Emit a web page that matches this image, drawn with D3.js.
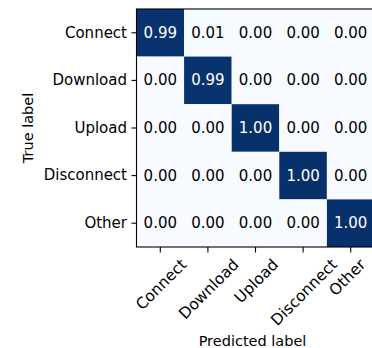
<!DOCTYPE html>
<html>
<head>
<meta charset="utf-8">
<script src="https://cdn.jsdelivr.net/npm/d3@7"></script>
<style>
  html, body { margin: 0; padding: 0; background: #fff; }
  svg { display: block; font-family: "DejaVu Sans", sans-serif; }
</style>
</head>
<body>
<svg id="chart" width="372" height="348"></svg>
<script>
// Class names for both axes
const classes = ["Connect", "Download", "Upload", "Disconnect", "Other"];

// Normalised confusion matrix, one row per true label
const rowConnect    = [0.99, 0.01, 0.00, 0.00, 0.00];
const rowDownload   = [0.00, 0.99, 0.00, 0.00, 0.00];
const rowUpload     = [0.00, 0.00, 1.00, 0.00, 0.00];
const rowDisconnect = [0.00, 0.00, 0.00, 1.00, 0.00];
const rowOther      = [0.00, 0.00, 0.00, 0.00, 1.00];
const matrix = [rowConnect, rowDownload, rowUpload, rowDisconnect, rowOther];

const xTitle = "Predicted label";
const yTitle = "True label";

const width = 372, height = 348;
const svg = d3.select("#chart");
const plotLeft = 136.5, plotTop = 9, plotSize = 238;
const tickFont = 15, xTickFont = 15.5, titleFont = 14.5;

const x = d3.scaleBand().domain(classes).range([plotLeft, plotLeft + plotSize]);
const y = d3.scaleBand().domain(classes).range([plotTop, plotTop + plotSize]);
const color = d3.scaleSequential(d3.interpolateBlues).domain([0, 1]);

const cells = [];
matrix.forEach((row, i) => row.forEach((v, j) => cells.push({ t: classes[i], p: classes[j], v })));

svg.append("g").selectAll("rect").data(cells).join("rect")
  .attr("x", d => x(d.p))
  .attr("y", d => y(d.t))
  .attr("width", x.bandwidth())
  .attr("height", y.bandwidth())
  .attr("fill", d => color(d.v));

svg.append("g").selectAll("text").data(cells).join("text")
  .attr("x", d => x(d.p) + x.bandwidth() / 2)
  .attr("y", d => y(d.t) + y.bandwidth() / 2)
  .attr("text-anchor", "middle")
  .attr("dominant-baseline", "central")
  .attr("font-size", tickFont)
  .attr("fill", d => d.v > 0.5 ? "#fff" : "#000")
  .text(d => d.v.toFixed(2));

// Frame
svg.append("rect")
  .attr("x", plotLeft).attr("y", plotTop)
  .attr("width", plotSize).attr("height", plotSize)
  .attr("fill", "none").attr("stroke", "#000").attr("stroke-width", 1.1);

// Y axis
const yAxis = d3.axisLeft(y).tickSize(5).tickPadding(4.5);
const gy = svg.append("g").attr("transform", `translate(${plotLeft},0)`).call(yAxis);
gy.select(".domain").remove();
gy.selectAll("text").attr("font-size", tickFont).attr("font-family", "DejaVu Sans").attr("fill", "#000");
gy.selectAll("line").attr("stroke", "#000").attr("stroke-width", 1.1);

// X axis with 45° labels centred under each tick, kept inside the canvas
const xAxis = d3.axisBottom(x).tickSize(5.5).tickPadding(3.5);
const gx = svg.append("g").attr("transform", `translate(0,${plotTop + plotSize})`).call(xAxis);
gx.select(".domain").remove();
gx.selectAll("line").attr("stroke", "#000").attr("stroke-width", 1.1);
gx.selectAll("text")
  .attr("font-size", xTickFont).attr("font-family", "DejaVu Sans").attr("fill", "#000")
  .attr("dy", null)
  .attr("text-anchor", "middle")
  .attr("dominant-baseline", "central")
  .each(function (d) {
    const w = this.getComputedTextLength();
    const h = 17;
    const half = (w + h) / Math.SQRT2 / 2;
    const tickX = x(d) + x.bandwidth() / 2;
    const cx = Math.min(tickX + 1, width - 3 - half) - tickX;
    d3.select(this).attr("y", null)
      .attr("transform", `translate(${cx},${9 + half}) rotate(-45)`);
  });

svg.append("text")
  .attr("x", plotLeft + plotSize / 2 - 3)
  .attr("y", 341)
  .attr("text-anchor", "middle")
  .attr("dominant-baseline", "central")
  .attr("font-size", titleFont)
  .text(xTitle);

svg.append("text")
  .attr("transform", `translate(28,${plotTop + plotSize / 2}) rotate(-90)`)
  .attr("text-anchor", "middle")
  .attr("dominant-baseline", "central")
  .attr("font-size", titleFont)
  .text(yTitle);
</script>
</body>
</html>
